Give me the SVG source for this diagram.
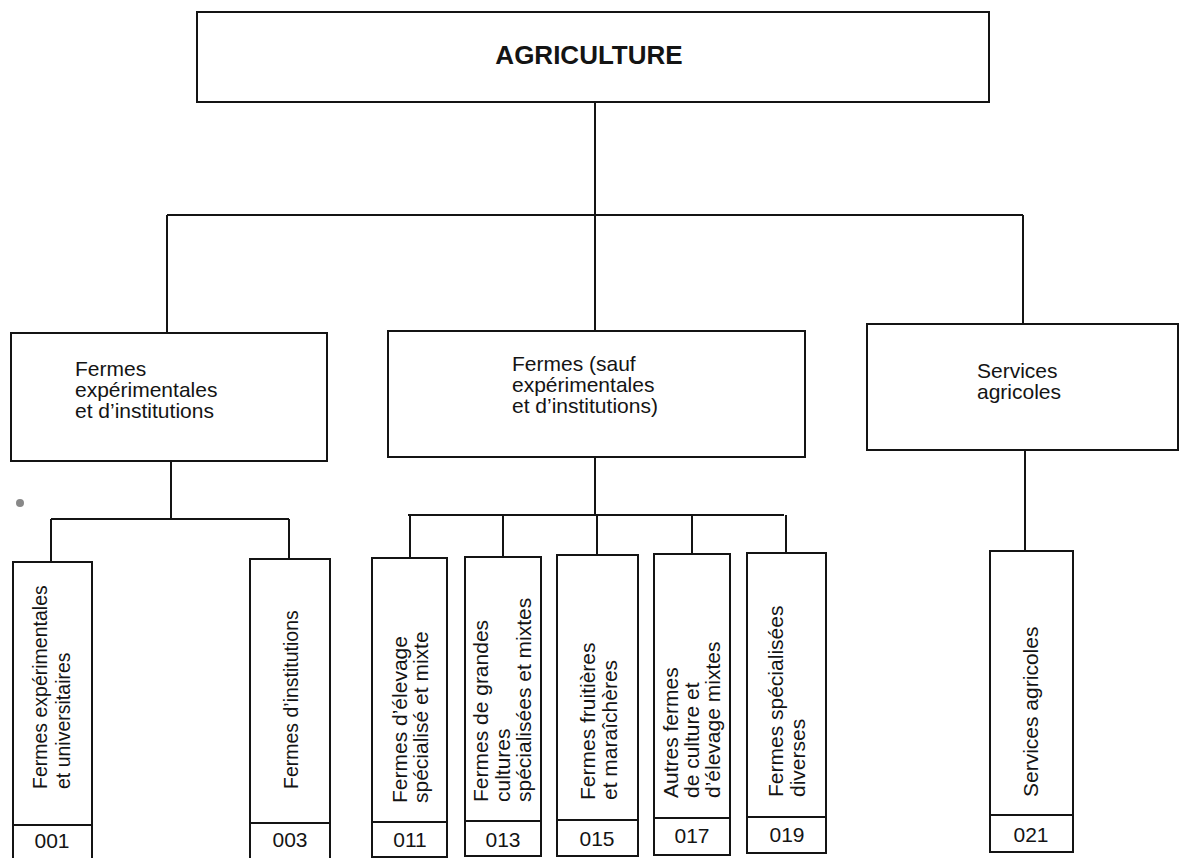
<svg xmlns="http://www.w3.org/2000/svg" width="1180" height="858" viewBox="0 0 1180 858">
<style>
.box{fill:#fff;stroke:#141414;stroke-width:2}
.ln{fill:none;stroke:#141414;stroke-width:2}
text{font-family:"Liberation Sans",Arial,Helvetica,sans-serif;fill:#141414}
.t{font-size:21px}
.v{font-size:21px}
.vs{font-size:19.5px}
.n{font-size:21px;text-anchor:middle}
.title{font-size:26px;font-weight:bold;text-anchor:middle}
</style>
<rect width="1180" height="858" fill="#fff"/>
<g id="connectors">
<path class="ln" d="M595,102 V215 M167,215 H1023 M167,215 V333 M595,215 V331 M1023,215 V324"/>
<path class="ln" d="M171,461 V519 M51,519 H289 M51,519 V562 M289,519 V559"/>
<path class="ln" d="M595,457 V515 M408,515 H784 M410,515 V558 M503,515 V557 M597,515 V555 M692,515 V554 M786,515 V553"/>
<path class="ln" d="M1025,450 V551"/>
</g>
<g id="agriculture">
<rect class="box" x="197" y="12" width="792" height="90"/>
<text class="title" x="589" y="64">AGRICULTURE</text>
</g>
<g id="fermes-exp">
<rect class="box" x="11" y="333" width="316" height="128"/>
<text class="t" x="75" y="376">Fermes<tspan x="75" y="397">expérimentales</tspan><tspan x="75" y="418">et d’institutions</tspan></text>
</g>
<g id="fermes-sauf">
<rect class="box" x="388" y="331" width="417" height="126"/>
<text class="t" x="512" y="371">Fermes (sauf<tspan x="512" y="392">expérimentales</tspan><tspan x="512" y="413">et d’institutions)</tspan></text>
</g>
<g id="services">
<rect class="box" x="867" y="324" width="311" height="126"/>
<text class="t" x="977" y="378">Services<tspan x="977" y="399">agricoles</tspan></text>
</g>
<g id="n001">
<rect class="box" x="13" y="562" width="79" height="300"/>
<path class="ln" d="M13,825 H92"/>
<text class="vs" transform="translate(47,789) rotate(-90)">Fermes expérimentales<tspan x="0" dy="23">et universitaires</tspan></text>
<text class="n" x="52" y="848">001</text>
</g>
<g id="n003">
<rect class="box" x="250" y="559" width="80" height="303"/>
<path class="ln" d="M250,823 H330"/>
<text class="vs" transform="translate(298,789) rotate(-90)">Fermes d’institutions</text>
<text class="n" x="290" y="847">003</text>
</g>
<g id="n011">
<rect class="box" x="372" y="558" width="75" height="299"/>
<path class="ln" d="M372,822 H447"/>
<text class="v" transform="translate(407,803) rotate(-90)">Fermes d’élevage<tspan x="0" dy="21">spécialisé et mixte</tspan></text>
<text class="n" x="410" y="847">011</text>
</g>
<g id="n013">
<rect class="box" x="465" y="557" width="76" height="299"/>
<path class="ln" d="M465,821 H541"/>
<text class="v" transform="translate(488,802) rotate(-90)">Fermes de grandes<tspan x="0" dy="21.5">cultures</tspan><tspan x="0" dy="21.5">spécialisées et mixtes</tspan></text>
<text class="n" x="503" y="847">013</text>
</g>
<g id="n015">
<rect class="box" x="557" y="555" width="81" height="301"/>
<path class="ln" d="M557,820 H638"/>
<text class="v" transform="translate(595,800) rotate(-90)">Fermes fruitières<tspan x="0" dy="22">et maraîchères</tspan></text>
<text class="n" x="597" y="846">015</text>
</g>
<g id="n017">
<rect class="box" x="654" y="554" width="76" height="301"/>
<path class="ln" d="M654,818 H730"/>
<text class="v" transform="translate(678,798) rotate(-90)">Autres fermes<tspan x="0" dy="21">de culture et</tspan><tspan x="0" dy="21">d’élevage mixtes</tspan></text>
<text class="n" x="692" y="843">017</text>
</g>
<g id="n019">
<rect class="box" x="747" y="553" width="79" height="300"/>
<path class="ln" d="M747,817 H826"/>
<text class="v" transform="translate(783,797) rotate(-90)">Fermes spécialisées<tspan x="0" dy="22">diverses</tspan></text>
<text class="n" x="787" y="842">019</text>
</g>
<g id="n021">
<rect class="box" x="990" y="551" width="83" height="301"/>
<path class="ln" d="M990,815 H1073"/>
<text class="v" transform="translate(1038,797) rotate(-90)">Services agricoles</text>
<text class="n" x="1031" y="842">021</text>
</g>
<circle cx="20" cy="503" r="4" fill="#888"/>
</svg>
